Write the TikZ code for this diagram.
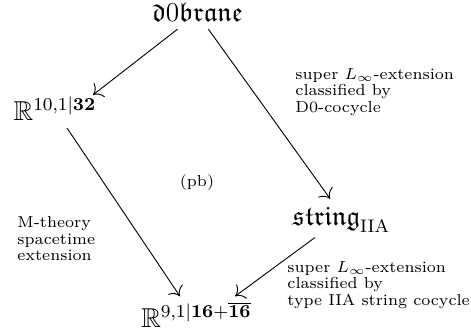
\documentclass[tikz,border=0pt]{standalone}
\usepackage{amssymb}
\usetikzlibrary{arrows.meta}
\begin{document}
\begin{tikzpicture}[x=0.44pt,y=-0.44pt,
  obj/.style={inner sep=0pt, font=\large},
  lbl/.style={font=\fontsize{7}{7.3}\selectfont, align=left, inner sep=0pt, anchor=north west},
  arr/.style={-{Computer Modern Rightarrow[scale=1.5]}, line width=0.4pt}]
\useasboundingbox (0,0) rectangle (471,332);
\node[obj] (top) at (197.5,12.5) {$\mathfrak{d}0\mathfrak{brane}$};
\node[obj] (R11) at (55,109) {$\mathbb{R}^{10,1|\mathbf{32}}$};
\node[obj] (str) at (341.5,219.5) {$\mathfrak{string}_{\mathrm{IIA}}$};
\node[obj] (R10) at (196.5,315) {$\mathbb{R}^{9,1|\mathbf{16}+\overline{\mathbf{16}}}$};
\draw[arr] ([xshift=-8.8pt,yshift=-3pt]top.south) -- ([xshift=16.7pt,yshift=0.8pt]R11.north);
\draw[arr] ([xshift=4.8pt,yshift=-3pt]top.south) -- ([xshift=-5pt,yshift=3.4pt]str.north);
\draw[arr] ([xshift=5.3pt,yshift=-3pt]R11.south) -- ([xshift=-7.3pt,yshift=2.4pt]R10.north);
\draw[arr] ([xshift=-11.7pt,yshift=-2.2pt]str.south) -- ([xshift=17pt,yshift=2.4pt]R10.north);
\node[lbl] (l1) at (295,68) {super $L_\infty$-extension\\classified by\\D0-cocycle};
\node[lbl] (l2) at (17,216) {M-theory\\spacetime\\extension};
\node[lbl] (l3) at (287,261) {super $L_\infty$-extension\\classified by\\type IIA string cocycle};
\node[font=\fontsize{7}{7.3}\selectfont, inner sep=0pt] (pb) at (197,183) {(pb)};
\end{tikzpicture}
\end{document}
